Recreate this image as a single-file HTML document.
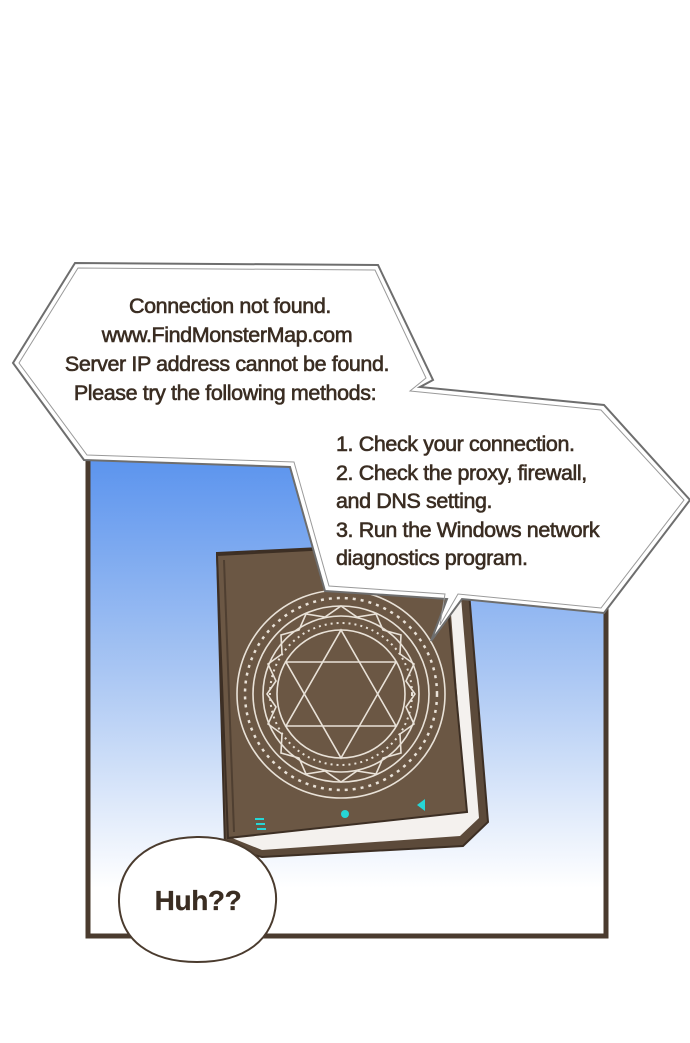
<!DOCTYPE html>
<html><head><style>
html,body{margin:0;padding:0;background:#fff;}
svg{display:block;}
text{font-family:"Liberation Sans",sans-serif;fill:#3a2d22;stroke:#3a2d22;stroke-width:0.6px;font-size:21.5px;letter-spacing:-0.4px;}
</style></head><body>
<svg width="690" height="1043" viewBox="0 0 690 1043" xmlns="http://www.w3.org/2000/svg">
<defs>
<linearGradient id="sky" x1="0" y1="0" x2="0" y2="1">
<stop offset="0" stop-color="#5a93ee"/>
<stop offset="0.45" stop-color="#a9c6f3"/>
<stop offset="0.9" stop-color="#ffffff"/>
</linearGradient>
</defs>
<rect x="88" y="455" width="518" height="481" fill="url(#sky)" stroke="#4a3b2e" stroke-width="5"/>
<polygon points="217,553 445,542 466,556 488,822 463,846 262,857 225,848" fill="#5c4a3a" stroke="#3d2f24" stroke-width="2"/>
<polygon points="446,548 458,560 479,818 460,836 262,850 232,838 466,812" fill="#f4f1ee"/>
<polygon points="217,555 442,543 467,812 228,838" fill="#6b5744" stroke="#3d2f24" stroke-width="2"/>
<line x1="224" y1="560" x2="234" y2="832" stroke="#4f3f31" stroke-width="2"/>
<g fill="none" stroke="#e9e2d8" stroke-width="1.6">
<circle cx="341" cy="694" r="104"/>
<circle cx="341" cy="694" r="88"/>
<circle cx="341" cy="694" r="78"/>
<circle cx="341" cy="694" r="64"/>
<polygon points="341,630 396,726 286,726"/>
<polygon points="341,758 396,662 286,662"/>
<circle cx="341" cy="694" r="96" stroke-dasharray="3 5" stroke-width="2.5"/>
<circle cx="341" cy="694" r="71" stroke-dasharray="2 4" stroke-width="2"/>
<polygon points="341,606 357,617 376,614 383,630 401,635 400,654 414,664 406,681 415,694 406,707 414,724 400,734 401,753 383,758 376,774 357,771 341,782 325,771 306,774 299,758 281,753 282,734 268,724 276,707 267,694 276,681 268,664 282,654 281,635 299,630 306,614 325,617"/>
</g>
<g fill="#26d6d6">
<circle cx="345" cy="814" r="4"/>
<polygon points="417,805 425,799 425,811"/>
<rect x="255" y="818" width="9" height="2"/><rect x="256" y="823" width="9" height="2"/><rect x="257" y="828" width="9" height="2"/>
</g>
<polygon points="75,263 378,265 433,380 420,387 604,405 690,500 604,613 462,599 431,641 447,599 325,591 290,467 84,460 13,363" fill="#fff" stroke="#6e6e6e" stroke-width="2" stroke-linejoin="miter"/>
<polygon points="78,268 375,270 426,378 410,391 601,410 684,500 601,608 458,594 440,625 445,594 329,586 294,462 87,455 19,363" fill="none" stroke="#9a9a9a" stroke-width="1"/>
<g text-anchor="middle">
<text x="230" y="313">Connection not found.</text>
<text x="227" y="342">www.FindMonsterMap.com</text>
<text x="227" y="371">Server IP address cannot be found.</text>
<text x="225" y="400">Please try the following methods:</text>
</g>
<text x="336" y="451">1. Check your connection.</text>
<text x="336" y="480">2. Check the proxy, firewall,</text>
<text x="336" y="508">and DNS setting.</text>
<text x="336" y="537">3. Run the Windows network</text>
<text x="336" y="565">diagnostics program.</text>
<path d="M197,837 C250,836 278,870 276,902 C274,940 245,962 197,962 C150,962 120,940 119,902 C118,866 146,838 197,837 Z" fill="#fff" stroke="#4a3b2e" stroke-width="2"/>
<text x="198" y="910" text-anchor="middle" style="font-size:28px;font-weight:bold;stroke-width:0.3px;">Huh??</text>
</svg>
</body></html>
